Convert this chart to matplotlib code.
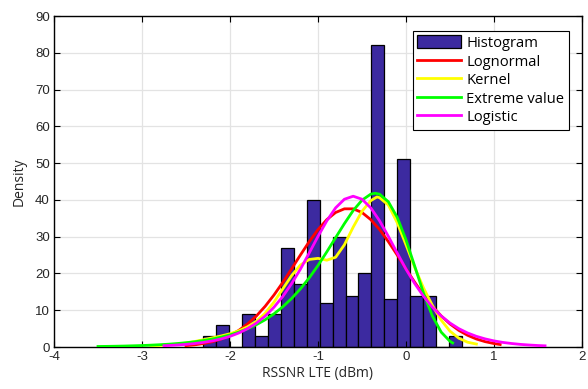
import numpy as np
import matplotlib
matplotlib.use("Agg")
import matplotlib.pyplot as plt

# Histogram of RSSNR LTE values (density scale), 20 equal-width bins
bin_lo, bin_hi = -2.303, 0.635
hist_density = [3, 6, 0, 9, 3, 9, 27, 17, 40, 12, 30, 14, 20, 82, 13, 51, 14, 14, 0, 3]

# Fitted density curves
logn_x = [-2.5, -2.4, -2.3, -2.2, -2.1, -2.0, -1.9, -1.8, -1.7, -1.6, -1.5, -1.4, -1.3,
          -1.2, -1.1, -1.0, -0.9, -0.8, -0.7, -0.6, -0.5, -0.4, -0.3, -0.2, -0.1, 0.0,
          0.1, 0.2, 0.3, 0.4, 0.5, 0.6, 0.7, 0.8, 0.9, 1.0, 1.07]
logn_y = [0.36, 0.59, 0.94, 1.45, 2.17, 3.18, 4.52, 6.27, 8.44, 11.08, 14.15, 17.57, 21.25,
          25.01, 28.64, 31.93, 34.63, 36.57, 37.57, 37.57, 36.57, 34.63, 31.93, 28.64, 25.01,
          21.25, 17.57, 14.15, 11.08, 8.44, 6.27, 4.52, 3.18, 2.17, 1.45, 0.94, 0.68]

kern_x = [-2.9, -2.8, -2.7, -2.6, -2.5, -2.4, -2.3, -2.2, -2.1, -2.0, -1.9, -1.8, -1.7,
          -1.6, -1.5, -1.4, -1.3, -1.2, -1.1, -1.0, -0.9, -0.8, -0.7, -0.6, -0.5, -0.4,
          -0.33, -0.3, -0.2, -0.1, 0.0, 0.1, 0.2, 0.3, 0.4, 0.5, 0.6, 0.7, 0.8]
kern_y = [0.3, 0.4, 0.6, 0.8, 1.1, 1.5, 2.0, 2.5, 3.0, 3.6, 4.4, 5.5, 7.0,
          9.2, 12.2, 15.8, 19.4, 22.3, 23.8, 24.1, 23.6, 24.4, 27.8, 32.6, 36.9, 39.8,
          40.8, 40.6, 38.6, 33.8, 27.8, 21.6, 16.0, 11.3, 7.3, 4.3, 2.4, 1.3, 0.8]

ev_x = [-3.5, -3.4, -3.3, -3.2, -3.1, -3.0, -2.9, -2.8, -2.7, -2.6, -2.5, -2.4, -2.3,
        -2.2, -2.1, -2.0, -1.9, -1.8, -1.7, -1.6, -1.5, -1.4, -1.3, -1.2, -1.1, -1.0,
        -0.9, -0.8, -0.7, -0.6, -0.5, -0.4, -0.35, -0.3, -0.2, -0.1, 0.0, 0.1, 0.2,
        0.3, 0.4, 0.5, 0.53]
ev_y = [0.14, 0.17, 0.21, 0.26, 0.33, 0.40, 0.50, 0.62, 0.76, 0.94, 1.16, 1.43, 1.76,
        2.17, 2.68, 3.29, 4.05, 4.96, 6.07, 7.41, 9.02, 10.94, 13.19, 15.80, 18.80, 22.17,
        25.87, 29.72, 33.55, 37.11, 39.92, 41.57, 41.8, 41.55, 39.48, 35.27, 29.13, 21.89, 14.60,
        8.41, 4.04, 1.55, 1.11]

logi_x = [-2.75, -2.7, -2.6, -2.5, -2.4, -2.3, -2.2, -2.1, -2.0, -1.9, -1.8, -1.7, -1.6,
          -1.5, -1.4, -1.3, -1.2, -1.1, -1.0, -0.9, -0.8, -0.7, -0.6, -0.5, -0.4, -0.3,
          -0.2, -0.1, 0.0, 0.1, 0.2, 0.3, 0.4, 0.5, 0.6, 0.7, 0.8, 0.9, 1.0, 1.1, 1.2,
          1.3, 1.4, 1.5, 1.58]
logi_y = [0.35, 0.40, 0.54, 0.71, 0.95, 1.25, 1.66, 2.20, 2.90, 3.81, 4.99, 6.51, 8.42,
          10.82, 13.75, 17.22, 21.16, 25.56, 30.07, 34.30, 37.83, 40.18, 41.0, 40.18, 37.83, 34.30,
          30.07, 25.56, 21.16, 17.22, 13.75, 10.82, 8.42, 6.51, 4.99, 3.81, 2.90, 2.20, 1.66, 1.25, 0.95,
          0.71, 0.54, 0.40, 0.32]

x_ticks = [-4, -3, -2, -1, 0, 1, 2]
y_ticks = [0, 10, 20, 30, 40, 50, 60, 70, 80, 90]

text_col = "#262626"
fig = plt.figure(figsize=(5.88, 3.89), dpi=100)
ax = fig.add_axes([54 / 588, 42 / 389, 528 / 588, 331 / 389])

edges = np.linspace(bin_lo, bin_hi, len(hist_density) + 1)
bars = ax.bar(edges[:-1], hist_density, width=np.diff(edges), align="edge",
              color="#3c2aa0", edgecolor="black", linewidth=0.9, label="Histogram", zorder=1)

lw = 2.0
l1, = ax.plot(logn_x, logn_y, color="#ff0000", lw=lw, label="Lognormal", zorder=3)
l2, = ax.plot(kern_x, kern_y, color="#ffff00", lw=lw, label="Kernel", zorder=3)
l3, = ax.plot(ev_x, ev_y, color="#00ff00", lw=lw, label="Extreme value", zorder=3)
l4, = ax.plot(logi_x, logi_y, color="#ff00ff", lw=lw, label="Logistic", zorder=3)

ax.set_xlim(-4, 2)
ax.set_ylim(0, 90)
ax.set_xticks(x_ticks)
ax.set_yticks(y_ticks)
ax.set_xticklabels([str(t) for t in x_ticks])
for t in x_ticks:
    ax.axvline(t, color="#e3e3e3", lw=0.9, zorder=0)
for t in y_ticks:
    ax.axhline(t, color="#e3e3e3", lw=0.9, zorder=0)

ax.tick_params(direction="in", length=4, width=0.8, top=True, right=True,
               labelsize=9.5, colors="black", labelcolor=text_col, pad=3)
for lab in ax.get_xticklabels() + ax.get_yticklabels():
    lab.set_family("Liberation Sans")
for s in ax.spines.values():
    s.set_linewidth(1.0)
    s.set_color("black")

ax.set_xlabel("RSSNR LTE (dBm)", fontsize=10, family="Open Sans", color=text_col, labelpad=2)
ax.set_ylabel("Density", fontsize=10, family="Open Sans", color=text_col, labelpad=6)

leg = ax.legend([bars, l1, l2, l3, l4],
                ["Histogram", "Lognormal", "Kernel", "Extreme value", "Logistic"],
                loc="upper right", bbox_to_anchor=(0.975, 0.955), borderaxespad=0,
                fancybox=False, framealpha=1, edgecolor="black", handlelength=3.0,
                handleheight=1.0, labelspacing=0.2, handletextpad=0.35, borderpad=0.3,
                prop={"family": "Open Sans", "size": 10.6})
leg.get_frame().set_linewidth(0.8)

fig.savefig("out.png", dpi=100)
